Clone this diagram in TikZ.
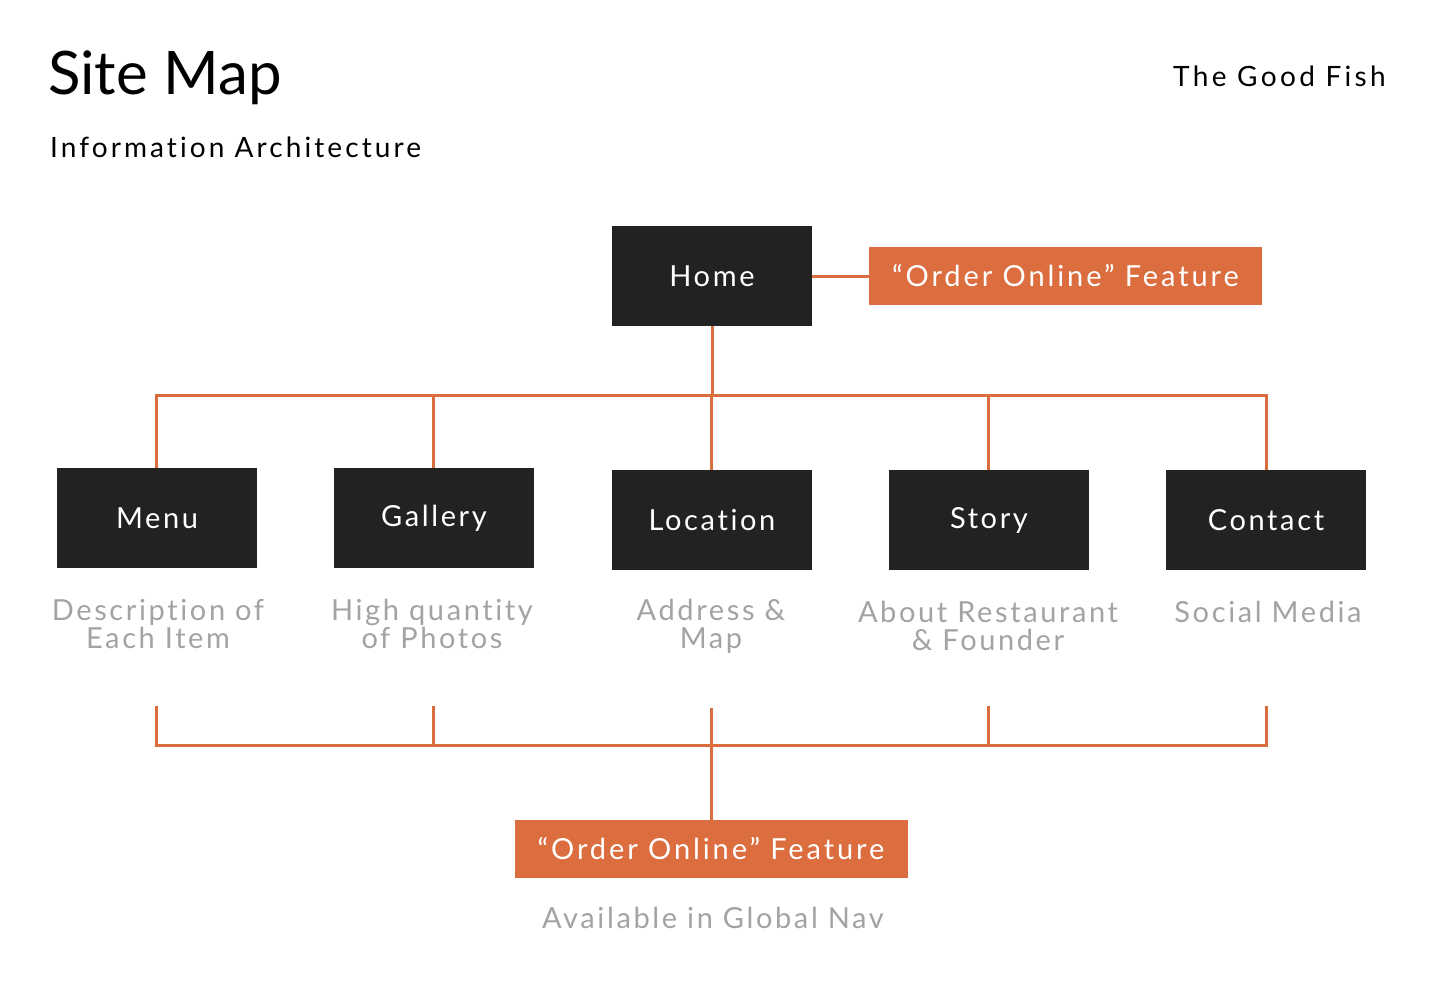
\documentclass[tikz,border=0pt]{standalone}
\usepackage{fontspec}
\setmainfont{Lato}[Ligatures=NoCommon]
\newfontfamily\labfont{Lato}[LetterSpace=9,Ligatures=NoCommon]
\newfontfamily\featfont{Lato}[LetterSpace=10,Ligatures=NoCommon]
\newfontfamily\descfont{Lato}[LetterSpace=9,Ligatures=NoCommon]
\newfontfamily\subfont{Lato}[LetterSpace=11,Ligatures=NoCommon]
\newfontfamily\brandfont{Lato}[LetterSpace=12,Ligatures=NoCommon]
\definecolor{orng}{HTML}{DB6D3F}
\definecolor{dark}{HTML}{222222}
\definecolor{greytxt}{HTML}{A3A3A3}
\begin{document}
\begin{tikzpicture}[x=1pt,y=-1pt,
  box/.style={fill=dark,minimum width=200pt,minimum height=100pt,inner sep=0pt,text=white,font=\labfont\fontsize{29}{29}\selectfont},
  feat/.style={fill=orng,minimum width=393pt,minimum height=58pt,inner sep=0pt,text=white,font=\featfont\fontsize{29}{29}\selectfont},
  desc/.style={align=center,text=greytxt,inner sep=0pt,font=\descfont\fontsize{29}{28}\selectfont},
  conn/.style={draw=orng,line width=3pt}]
\useasboundingbox (0,0) rectangle (1440,990);
% header
\node[anchor=base west,inner sep=0pt,font=\fontsize{60}{60}\selectfont] (title) at (48,95) {Site Map};
\node[anchor=base west,inner sep=0pt,font=\subfont\fontsize{28}{28}\selectfont] (sub) at (50,157) {Information Architecture};
\node[anchor=base east,inner sep=0pt,font=\brandfont\fontsize{28}{28}\selectfont] (brand) at (1386,86) {The Good Fish};
% boxes
\node[box] (home) at (712,276) {Home};
\node[feat] (order1) at (1065.5,276) {“Order Online” Feature};
\node[box] (menu) at (157,518) {Menu};
\node[box] (gallery) at (434,518) {Gallery};
\node[box] (location) at (712,520) {Location};
\node[box] (story) at (989,520) {Story};
\node[box] (contact) at (1266,520) {Contact};
% descriptions
\node[desc] (d1) at (158,624) {Description of\\Each Item};
\node[desc] (d2) at (432,624) {High quantity\\of Photos};
\node[desc] (d3) at (711,626) {Address \&\\Map};
\node[desc] (d4) at (988,626) {About Restaurant\\\& Founder};
\node[desc] (d5) at (1268,612) {Social Media};
% bottom feature
\node[feat] (order2) at (711,849) {“Order Online” Feature};
\node[desc] (avail) at (713,918) {Available in Global Nav};
% connectors top
\coordinate (bus) at (0,395);
\draw[conn] (home.east) -- (order1.west);
\draw[conn] (home.south) -- (home.south |- bus);
\draw[conn] (menu.north -| 156,0) -- (156,395) -- (1266,395) -- (contact.north);
\draw[conn] (gallery.north -| 433,0) -- (433,395);
\draw[conn] (location.north -| 711,0) -- (711,395);
\draw[conn] (story.north -| 988,0) -- (988,395);
% bottom bracket
\coordinate (t1) at (156,706);
\coordinate (t2) at (433,706);
\coordinate (t3) at (711,708);
\coordinate (t4) at (988,706);
\coordinate (t5) at (1266,706);
\coordinate (b1) at (156,745);
\coordinate (b5) at (1266,745);
\draw[conn] (t1) -- (b1) -- (b5) -- (t5);
\draw[conn] (t2) -- (t2 |- b1);
\draw[conn] (t4) -- (t4 |- b1);
\draw[conn] (t3) -- (order2.north);
\end{tikzpicture}
\end{document}
